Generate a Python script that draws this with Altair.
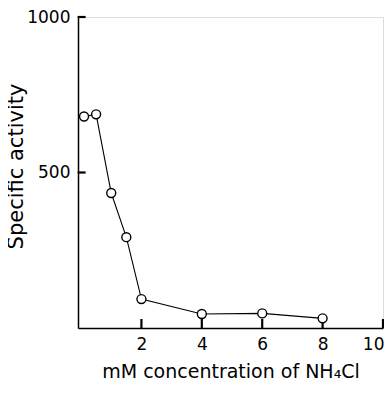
import altair as alt
import pandas as pd

conc = [0.1, 0.5, 1.0, 1.5, 2.0, 4.0, 6.0, 8.0]
activity = [680, 687, 434, 292, 93, 45, 47, 31]

x_ticks = [2, 4, 6, 8, 10]
y_ticks = [500, 1000]

# one table: data points plus positions of the inward tick marks
rows = []
for c, a in zip(conc, activity):
    rows.append({"kind": "pt", "x": c, "y": a})
for v in x_ticks:
    rows.append({"kind": "xt", "x": float(v), "y": 14.5})
for v in y_ticks:
    rows.append({"kind": "yt", "x": 0.02, "y": float(v)})
df = pd.DataFrame(rows)

FONT = "DejaVu Sans"

xscale = alt.Scale(domain=[-0.1, 10], nice=False, zero=False)
yscale = alt.Scale(domain=[0, 1000], nice=False)

base = alt.Chart(df)

line = base.transform_filter(alt.datum.kind == "pt").mark_line(
    color="black", strokeWidth=1.1).encode(
    x=alt.X("x:Q", scale=xscale,
            axis=alt.Axis(values=x_ticks, tickSize=0, labelPadding=8, grid=False,
                          labelFlush=True, labelFlushOffset=1, format="d",
                          title="mM concentration of  NH₄Cl", titlePadding=10,
                          domainColor="black", domainWidth=1.5,
                          labelFont=FONT, labelFontSize=17, labelColor="black",
                          titleFont=FONT, titleFontSize=19, titleFontWeight="normal",
                          titleColor="black")),
    y=alt.Y("y:Q", scale=yscale,
            axis=alt.Axis(values=y_ticks, tickSize=0, labelPadding=8, grid=False,
                          labelFlush=False, format="d",
                          title="Specific activity", titlePadding=0, titleY=149,
                          domainColor="black", domainWidth=1.5,
                          labelFont=FONT, labelFontSize=17, labelColor="black",
                          titleFont=FONT, titleFontSize=21, titleFontWeight="normal",
                          titleColor="black")),
)

xtick_marks = base.transform_filter(alt.datum.kind == "xt").mark_tick(
    color="black", orient="vertical", size=9, thickness=2.2, opacity=1).encode(
    x=alt.X("x:Q", scale=xscale),
    y=alt.Y("y:Q", scale=yscale),
)

ytick_marks = base.transform_filter(alt.datum.kind == "yt").mark_tick(
    color="black", orient="horizontal", size=8, thickness=2.2, opacity=1).encode(
    x=alt.X("x:Q", scale=xscale),
    y=alt.Y("y:Q", scale=yscale),
)

points = base.transform_filter(alt.datum.kind == "pt").mark_point(
    shape="circle", filled=False, fill="white", fillOpacity=1,
    stroke="black", strokeWidth=1.4, size=80, opacity=1).encode(
    x=alt.X("x:Q", scale=xscale),
    y=alt.Y("y:Q", scale=yscale),
)

chart = alt.layer(line, xtick_marks, ytick_marks, points).properties(
    width=305,
    height=311,
    autosize=alt.AutoSizeParams(type="none"),
    padding={"left": 70, "top": 9, "right": 1, "bottom": 55},
).configure_view(stroke=None).configure(background="white")

chart.save("out.html", embed_options={"renderer": "svg", "actions": False})
